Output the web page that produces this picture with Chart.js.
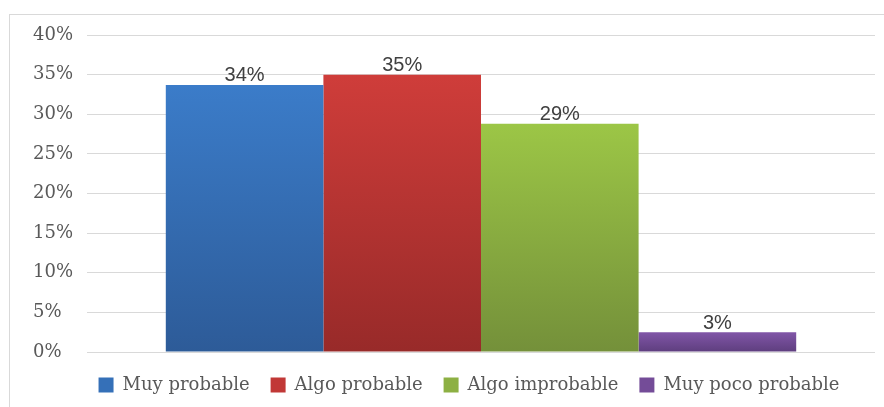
<!DOCTYPE html>
<html>
<head>
<meta charset="utf-8">
<script src="https://cdn.jsdelivr.net/npm/chart.js@4.4.1/dist/chart.umd.min.js"></script>
<style>
body { margin: 0; background: #ffffff; }
#marco { position: absolute; left: 9px; top: 14px; width: 880px; height: 400px; border: 1px solid #d9d9d9; }
#caja { position: absolute; left: 0; top: 0; width: 884px; height: 407px; }
</style>
</head>
<body>
<div id="marco"></div>
<div id="caja"><canvas id="myChart" width="884" height="407"></canvas></div>
<script>
// datos
var categorias = ["Muy probable", "Algo probable", "Algo improbable", "Muy poco probable"];
var valores = [33.7, 35.0, 28.8, 2.5];
var etiquetas = ["34%", "35%", "29%", "3%"];
var ticksY = [0, 5, 10, 15, 20, 25, 30, 35, 40];

var colArriba = ["#3b7cc9", "#cf3d3a", "#9cc646", "#8156a8"];
var colAbajo = ["#2d5b98", "#982a29", "#74903a", "#5e3e7e"];
var colLeyenda = ["#3570b8", "#c13836", "#8db043", "#744c98"];

// degradado propio de cada barra, de arriba a abajo
function degradado(i)
{
    return function(context) {
        var chart = context.chart;
        var y = chart.scales.y;
        if (!chart.chartArea || !y) return colArriba[i];
        var arriba = y.getPixelForValue(valores[i]);
        var abajo = y.getPixelForValue(0);
        var g = chart.ctx.createLinearGradient(0, arriba, 0, abajo);
        g.addColorStop(0, colArriba[i]);
        g.addColorStop(1, colAbajo[i]);
        return g;
    };
}

var datasets = [];
for (var i = 0; i < categorias.length; i++)
{
    datasets.push({
        label: categorias[i],
        data: [valores[i]],
        backgroundColor: degradado(i),
        borderWidth: 0,
        categoryPercentage: 0.8,
        barPercentage: 1.0
    });
}

// etiquetas encima de cada barra
var etiquetasPlugin = {
    id: 'etiquetas',
    afterLayout: function(chart) {
        // la leyenda va algo a la derecha, como en el original
        chart.legend.left += 30;
        chart.legend.top += 3;
    },
    afterDatasetsDraw: function(chart) {
        var ctx = chart.ctx;
        ctx.save();
        ctx.font = '20px "Liberation Sans", sans-serif';
        ctx.fillStyle = '#404040';
        ctx.textAlign = 'center';
        ctx.textBaseline = 'bottom';
        for (var d = 0; d < chart.data.datasets.length; d++)
        {
            var bar = chart.getDatasetMeta(d).data[0];
            ctx.fillText(etiquetas[d], bar.x, bar.y + 1);
        }
        ctx.restore();
    }
};

var ctx = document.getElementById("myChart").getContext('2d');
var myChart = new Chart(ctx, {
    type: 'bar',
    data: {
        labels: [""],
        datasets: datasets
    },
    options: {
        responsive: false,
        animation: false,
        layout: { padding: { left: 33, right: 9, top: 35, bottom: 6 } },
        plugins: {
            tooltip: { enabled: false },
            legend: {
                position: 'bottom',
                labels: {
                    boxWidth: 15,
                    boxHeight: 15,
                    padding: 21,
                    color: '#595959',
                    font: { family: '"DejaVu Serif", serif', size: 18 },
                    generateLabels: function(chart) {
                        return categorias.map(function(c, k) {
                            return { text: c, fillStyle: colLeyenda[k], strokeStyle: colLeyenda[k], lineWidth: 0, datasetIndex: k, fontColor: '#595959' };
                        });
                    }
                }
            }
        },
        scales: {
            x: {
                display: false
            },
            y: {
                min: 0,
                max: 40,
                afterFit: function(scale) { scale.width = 54; },
                afterBuildTicks: function(scale) {
                    scale.ticks = ticksY.map(function(v) { return { value: v }; });
                },
                border: { display: false },
                grid: { color: '#d9d9d9', lineWidth: 1, drawTicks: false },
                ticks: {
                    padding: 14,
                    crossAlign: 'far',
                    color: '#595959',
                    font: { family: '"DejaVu Serif", serif', size: 18 },
                    callback: function(v) { return v + '%'; }
                }
            }
        }
    },
    plugins: [etiquetasPlugin]
});
</script>
</body>
</html>
